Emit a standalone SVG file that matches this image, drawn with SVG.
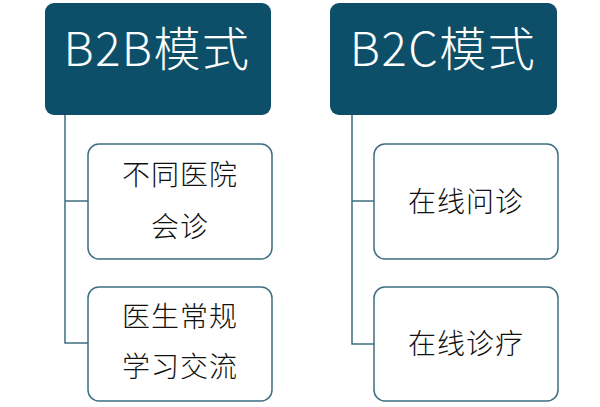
<svg xmlns="http://www.w3.org/2000/svg" width="600" height="407" viewBox="0 0 600 407">
<style>
.hdr{fill:#0d4f68;}
.hdrt{fill:#ffffff;font-family:"Noto Sans CJK SC","Noto Sans",sans-serif;font-size:47px;font-weight:300;text-anchor:middle;letter-spacing:1.5px;}
.box{fill:#ffffff;stroke:#3d6e82;stroke-width:1.5;}
.txt{fill:#111111;font-family:"Noto Sans CJK SC",sans-serif;font-size:28px;font-weight:300;text-anchor:middle;letter-spacing:1px;}
.con{fill:none;stroke:#3d6e82;stroke-width:1.5;}
</style>
<rect width="600" height="407" fill="#ffffff"/>
<g id="connectors">
<path class="con" d="M65 115 V343 H88 M65 201 H88"/>
<path class="con" d="M352 115 V344 H374 M352 201 H374"/>
</g>
<g id="b2b">
<rect class="hdr" x="45" y="3" width="226" height="112" rx="9"/>
<text class="hdrt" x="157" y="66">B2B模式</text>
</g>
<g id="b2c">
<rect class="hdr" x="330" y="3" width="227" height="112" rx="9"/>
<text class="hdrt" x="443" y="66">B2C模式</text>
</g>
<g id="n1">
<rect class="box" x="88" y="144" width="184" height="115" rx="11"/>
<text class="txt" x="180" y="185">不同医院</text>
<text class="txt" x="180" y="237">会诊</text>
</g>
<g id="n2">
<rect class="box" x="88" y="287" width="184" height="114" rx="11"/>
<text class="txt" x="180" y="327">医生常规</text>
<text class="txt" x="180" y="377">学习交流</text>
</g>
<g id="n3">
<rect class="box" x="374" y="144" width="184" height="115" rx="11"/>
<text class="txt" x="466" y="212">在线问诊</text>
</g>
<g id="n4">
<rect class="box" x="374" y="287" width="184" height="114" rx="11"/>
<text class="txt" x="466" y="354">在线诊疗</text>
</g>
</svg>
